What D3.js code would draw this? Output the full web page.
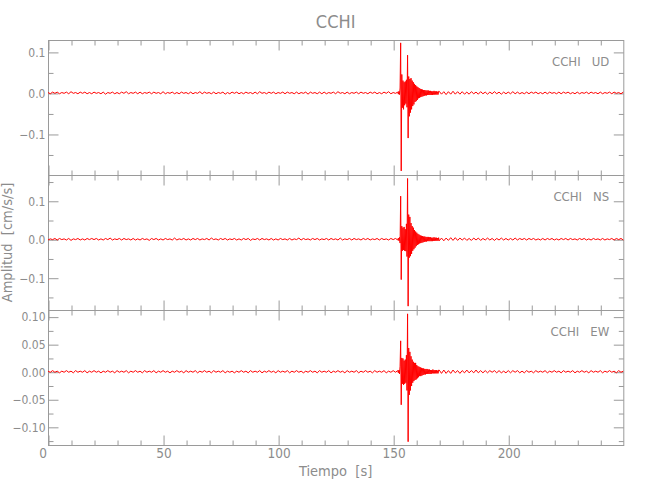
<!DOCTYPE html>
<html>
<head>
<meta charset="utf-8">
<script src="https://cdn.jsdelivr.net/npm/d3@7"></script>
<style>
  html, body { margin: 0; padding: 0; background: #fff; }
  svg { display: block; }
  text { font-family: "Liberation Sans Narrow", "DejaVu Sans Condensed", "Liberation Sans", sans-serif; fill: #8c8c8c; }
</style>
</head>
<body>
<svg id="chart" width="650" height="500"></svg>
<script>
// ---------------- DATA ----------------
const stationName = "CCHI";
const componentNames = ["UD", "NS", "EW"];
const xTickLabels = [0, 50, 100, 150, 200];
const xMinorStep = 10;
const yMajorTicks = [[-0.1, 0.0, 0.1], [-0.1, 0.0, 0.1], [-0.10, -0.05, 0.00, 0.05, 0.10]];
const yMinorTicks = [[-0.15, -0.05, 0.05], [-0.15, -0.05, 0.05, 0.15], [-0.125, -0.075, -0.025, 0.025, 0.075]];
const yDomains = [[-0.200, 0.129], [-0.184, 0.167], [-0.133, 0.112]];
const yFormats = [".1f", ".1f", ".2f"];

// sample times (s): 1 s before/after the event, 0.25 s during it
const sampleTimes = [...d3.range(0, 152, 1), ...d3.range(152, 170, 0.25), ...d3.range(170, 250.01, 1)];

// amplitudes in units of 0.001 cm/s/s  (pre-event | event | post-event)
const udMilli = [
  1,-2,2,-1,2,-2,1,-1,2,-2,3,-1,1,-2,2,-1,2,-2,1,-2,
  2,-1,1,-2,2,-3,1,-1,2,-2,1,-2,2,-1,3,-2,1,-1,2,-2,
  2,-2,1,-1,2,-2,2,-1,1,-2,3,-2,1,-1,2,-2,1,-2,2,-1,
  1,-2,2,-2,1,-1,3,-2,2,-1,1,-2,2,-2,1,-1,2,-3,1,-2,
  2,-1,2,-2,1,-2,2,-1,1,-2,2,-2,3,-1,1,-2,2,-1,2,-2,
  1,-1,2,-2,2,-1,1,-2,2,-2,1,-1,2,-3,2,-1,1,-2,2,-2,
  2,-2,1,-1,2,-2,3,-1,1,-2,2,-2,1,-1,2,-2,2,-1,1,-2,
  2,-1,2,-2,1,-2,2,-1,3,-2,1,-1,
  2,-3,4,-4,12,122,-190,45,
  -36,30,-40,26,-30,28,-26,32,
  -35,92,-110,40,-57,34,-48,36,
  -40,30,-32,26,-28,22,-22,19,
  -20,16,-17,14,-13,12,-12,10,
  -10,9,-9,8,-8,7,-7,7,
  -6,6,-6,6,-5,6,-5,5,
  -5,5,-5,4,-5,4,-4,5,
  -4,4,-4,4,-4,3,-4,4,
  4,-3,3,-4,3,-3,4,-3,3,-3,3,-3,2,-3,3,-2,2,-3,3,-2,
  2,-3,2,-2,3,-2,2,-3,2,-2,2,-2,3,-2,2,-2,1,-2,2,-2,
  2,-1,2,-2,1,-2,2,-2,2,-1,1,-2,2,-2,2,-1,2,-2,1,-2,
  2,-2,1,-1,2,-2,2,-1,1,-2,2,-2,1,-1,2,-2,2,-1,1,-2,
  2
];

const nsMilli = [
  -2,1,-1,2,-2,2,-1,1,-2,2,-3,1,-1,2,-2,1,-2,2,-1,2,
  -1,2,-2,1,-2,2,-1,3,-2,1,-1,2,-2,2,-1,1,-2,2,-2,1,
  -2,2,-1,1,-3,2,-1,2,-2,1,-2,2,-1,1,-2,3,-2,1,-1,2,
  -2,1,-2,2,-1,2,-2,1,-1,2,-2,3,-1,1,-2,2,-1,2,-2,1,
  -1,2,-2,1,-2,2,-1,2,-3,1,-1,2,-2,2,-1,1,-2,2,-2,1,
  -2,2,-1,1,-2,2,-2,1,-1,3,-2,2,-1,1,-2,2,-1,2,-2,1,
  -1,2,-2,2,-1,1,-2,3,-2,1,-1,2,-2,2,-1,1,-2,2,-1,2,
  -2,1,-1,2,-2,2,-1,1,-2,2,-1,2,
  -2,3,-4,5,-10,112,-105,34,
  -30,30,-28,32,-30,26,-31,40,
  -45,158,-174,64,-48,58,-44,42,
  -38,34,-30,30,-26,24,-22,20,
  -18,17,-15,14,-13,12,-11,10,
  -10,9,-9,8,-8,7,-7,7,
  -6,6,-6,6,-5,6,-5,5,
  -5,5,-5,4,-5,4,-4,5,
  -4,4,-4,4,-4,3,-4,4,
  -4,3,-4,3,-3,4,-3,4,-3,3,-2,3,-3,2,-3,3,-2,3,-3,2,
  -2,3,-2,2,-3,2,-2,3,-2,2,-2,2,-2,3,-2,2,-1,2,-2,2,
  -1,2,-2,1,-2,2,-2,2,-1,2,-2,1,-2,2,-1,2,-2,2,-1,1,
  -2,2,-1,2,-2,1,-2,2,-1,1,-2,2,-2,1,-1,2,-2,2,-1,2,
  -2
];

const ewMilli = [
  1,-1,2,-1,1,-2,1,-1,2,-1,1,-2,2,-1,1,-1,2,-2,1,-1,
  2,-1,1,-2,1,-1,2,-1,1,-2,2,-1,1,-1,2,-2,1,-1,2,-1,
  1,-2,2,-1,1,-1,2,-2,1,-1,2,-1,1,-2,1,-1,2,-1,1,-2,
  2,-1,1,-1,2,-2,1,-1,2,-1,1,-2,2,-1,1,-1,2,-2,1,-1,
  1,-2,1,-1,2,-1,1,-2,2,-1,1,-1,2,-2,1,-1,2,-1,1,-2,
  2,-1,1,-1,2,-2,1,-1,2,-1,1,-2,1,-1,2,-1,1,-2,2,-1,
  1,-1,2,-2,1,-1,2,-1,1,-2,2,-1,1,-1,2,-2,1,-1,2,-1,
  1,-2,2,-1,1,-1,2,-2,1,-1,2,-1,
  2,-2,3,-4,10,56,-60,25,
  -22,24,-24,20,-22,22,-20,30,
  -34,105,-127,43,-42,36,-34,28,
  -26,22,-20,18,-17,16,-15,16,
  -14,12,-12,10,-10,9,-8,8,
  -8,7,-7,6,-6,6,-5,5,
  -5,5,-4,5,-4,4,-4,4,
  -4,3,-4,3,-3,4,-3,3,
  -3,3,-3,3,-3,2,-3,3,
  3,-3,3,-3,2,-3,3,-2,2,-3,2,-2,3,-2,2,-2,3,-2,2,-2,
  2,-2,2,-1,2,-2,2,-2,1,-2,2,-2,2,-1,2,-2,1,-2,2,-1,
  1,-2,2,-1,1,-1,2,-2,1,-1,2,-1,1,-2,2,-1,1,-1,2,-2,
  1,-1,2,-1,1,-2,2,-1,1,-1,2,-2,1,-1,2,-1,1,-2,2,-1,
  1
];

const componentValues = [udMilli, nsMilli, ewMilli].map(a => a.map(v => v / 1000));

// ---------------- LAYOUT ----------------
const svg = d3.select("#chart");
const left = 48, right = 623.3;
const panelTops = [40, 175, 310];
const panelHeight = 135;
const axisColor = "#9a9a9a";
const traceColor = "#ff0000";

const x = d3.scaleLinear().domain([0, 250]).range([left, right]);
const xMinor = d3.range(0, 251, xMinorStep).filter(v => v % 50 !== 0);

function styleAxis(g) {
  g.select(".domain").remove();
  g.selectAll("line").attr("stroke", axisColor).attr("stroke-width", 1);
  g.selectAll("text").attr("fill", "#8c8c8c").attr("font-family", null);
}

componentNames.forEach((comp, i) => {
  const top = panelTops[i], bottom = top + panelHeight;
  const y = d3.scaleLinear().domain(yDomains[i]).range([bottom, top]);
  const fmt = d3.format(yFormats[i]);
  const g = svg.append("g");

  // frame
  g.append("rect").attr("x", left + 0.5).attr("y", top + 0.5)
    .attr("width", right - left).attr("height", panelHeight)
    .attr("fill", "none").attr("stroke", axisColor).attr("stroke-width", 1);

  // y axes (left labelled, right unlabelled), ticks inward
  g.append("g").attr("transform", `translate(${left + 0.5},0.5)`)
    .call(d3.axisLeft(y).tickValues(yMajorTicks[i]).tickSize(-10).tickPadding(3).tickFormat(fmt))
    .call(styleAxis).call(s => s.selectAll("text").attr("font-size", 12));
  g.append("g").attr("transform", `translate(${left + 0.5},0.5)`)
    .call(d3.axisLeft(y).tickValues(yMinorTicks[i]).tickSize(-5).tickFormat(""))
    .call(styleAxis);
  g.append("g").attr("transform", `translate(${right + 0.5},0.5)`)
    .call(d3.axisRight(y).tickValues(yMajorTicks[i]).tickSize(-10).tickFormat(""))
    .call(styleAxis);
  g.append("g").attr("transform", `translate(${right + 0.5},0.5)`)
    .call(d3.axisRight(y).tickValues(yMinorTicks[i]).tickSize(-5).tickFormat(""))
    .call(styleAxis);

  // x axes top & bottom, ticks inward
  g.append("g").attr("transform", `translate(0.5,${top + 0.5})`)
    .call(d3.axisTop(x).tickValues(xTickLabels).tickSize(-10).tickFormat(""))
    .call(styleAxis);
  g.append("g").attr("transform", `translate(0.5,${top + 0.5})`)
    .call(d3.axisTop(x).tickValues(xMinor).tickSize(-5).tickFormat(""))
    .call(styleAxis);
  const isLast = i === componentNames.length - 1;
  const bx = g.append("g").attr("transform", `translate(0.5,${bottom + 0.5})`)
    .call(d3.axisBottom(x).tickValues(xTickLabels).tickSize(-10).tickPadding(3)
      .tickFormat(isLast ? d3.format("d") : ""))
    .call(styleAxis);
  if (isLast) {
    bx.selectAll("text").attr("font-size", 13.5);
    bx.selectAll("text").filter(d => d === 0).attr("dx", -6);
  }
  g.append("g").attr("transform", `translate(0.5,${bottom + 0.5})`)
    .call(d3.axisBottom(x).tickValues(xMinor).tickSize(-5).tickFormat(""))
    .call(styleAxis);

  // trace
  const vals = componentValues[i];
  const line = d3.line().x((d, k) => x(sampleTimes[k])).y(d => y(d));
  g.append("path").datum(vals)
    .attr("d", line)
    .attr("fill", "none")
    .attr("stroke", traceColor)
    .attr("stroke-width", 1)
    .attr("stroke-linejoin", "round");

  // station / component label
  g.append("text").attr("x", right - 14).attr("y", top + 26)
    .attr("text-anchor", "end").attr("font-size", 13)
    .attr("xml:space", "preserve")
    .text(`${stationName}   ${comp}`);
});

// title
svg.append("text").attr("x", (left + right) / 2).attr("y", 28)
  .attr("text-anchor", "middle").attr("font-size", 18).text(stationName);

// axis titles
svg.append("text").attr("x", (left + right) / 2).attr("y", 476)
  .attr("text-anchor", "middle").attr("font-size", 14.5)
  .attr("xml:space", "preserve").text("Tiempo  [s]");
svg.append("text")
  .attr("transform", `translate(12,${(panelTops[0] + panelTops[2] + panelHeight) / 2}) rotate(-90)`)
  .attr("text-anchor", "middle").attr("font-size", 14.5)
  .attr("xml:space", "preserve").text("Amplitud  [cm/s/s]");
</script>
</body>
</html>
